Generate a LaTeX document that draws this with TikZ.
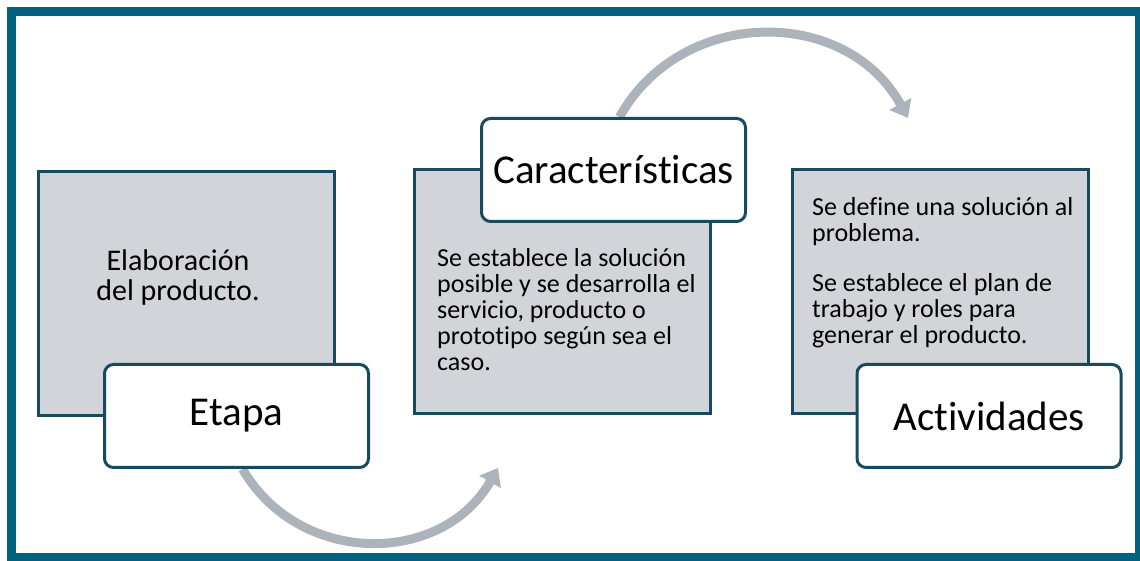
\documentclass[tikz,border=0pt]{standalone}
\usepackage{fontspec}
\setmainfont{Carlito}[Ligatures=NoCommon]
\usepackage{tikz}
\usetikzlibrary{arrows.meta,backgrounds}

\definecolor{marco}{HTML}{03607F}
\definecolor{borde}{HTML}{17495F}
\definecolor{relleno}{HTML}{D1D5D9}
\definecolor{flecha}{HTML}{ADB3BA}

\begin{document}
\begin{tikzpicture}[x=1pt, y=1pt,
  caja/.style={draw=borde, fill=relleno, line width=3pt, minimum width=296pt, minimum height=244pt},
  titulo/.style={draw=borde, fill=white, line width=3pt, rounded corners=9pt, minimum width=264pt, minimum height=103pt, font=\fontsize{41}{41}\selectfont},
  texto/.style={inner sep=0pt, align=left, font=\fontsize{26}{26}\selectfont},
  flechagris/.style={draw=flecha, line width=9pt, -{Triangle[length=16pt,width=24pt]}}]

\useasboundingbox (0,0) rectangle (1140,561);
\draw[marco, line width=9pt] (11.5,3.5) rectangle (1139.5,549.5);

%Cajas
\node[caja] (etapabox) at (186.5, 267.5) {};
\node[caja] (caractbox) at (562.5, 269) {};
\node[caja] (activbox) at (940, 269) {};

\node[texto, align=center, anchor=north, font=\fontsize{30}{30}\selectfont] (etapatxt) at (178, 312) {Elaboración\\del producto.};
\node[texto, anchor=north west] (caracttxt) at (437, 313) {Se establece la solución\\posible y se desarrolla el\\servicio, producto o\\prototipo según sea el\\caso.};
\node[texto, anchor=north west] (activtxt) at (812, 364) {Se define una solución al\\problema.\\[24pt]Se establece el plan de\\trabajo y roles para\\generar el producto.};

%Titulos
\node[titulo] (etapa) at (236.5, 145) {Etapa};
\node[titulo] (caract) at (613.5, 391) {Características};
\node[titulo] (activ) at (989, 145) {Actividades};

%Flechas
\coordinate (tip1) at (498, 93);
\coordinate (tip2) at (908, 443);
\begin{scope}[on background layer]
\draw[flechagris] ([xshift=6pt]etapa.south) to[bend right=60, looseness=1.13] (tip1);
\draw[flechagris] ([xshift=6pt]caract.north) to[bend left=61, looseness=1.13] (tip2);
\end{scope}

\end{tikzpicture}
\end{document}
